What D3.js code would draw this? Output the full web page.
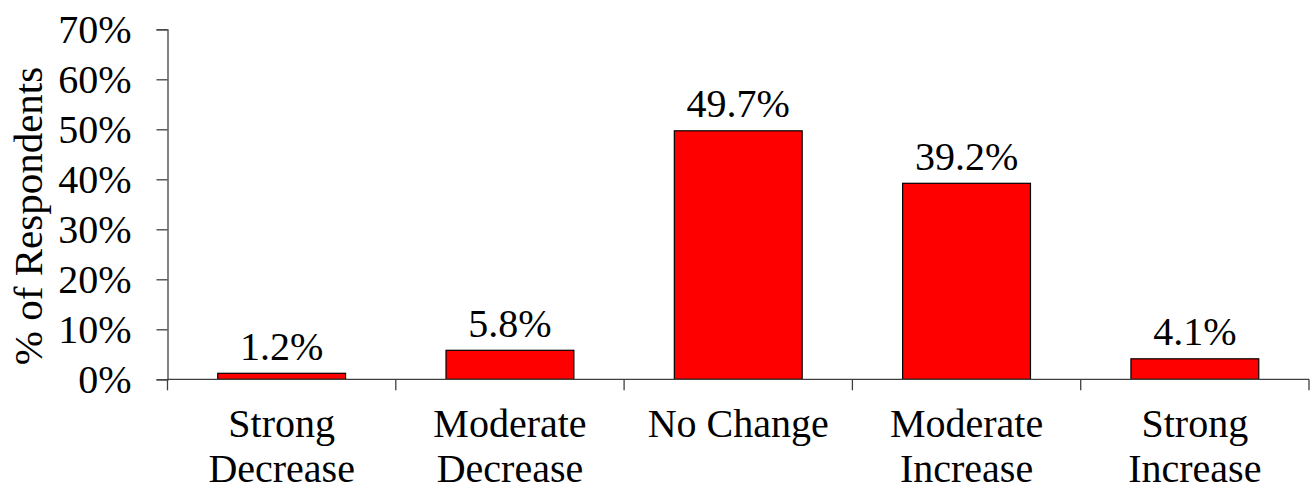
<!DOCTYPE html>
<html><head><meta charset="utf-8">
<script src="https://cdn.jsdelivr.net/npm/d3@7/dist/d3.min.js"></script>
<style>body{margin:0;background:#fff}svg text{font-family:"Liberation Serif","Times New Roman",serif;fill:#000}</style>
</head><body><svg id="c" width="1314" height="488"></svg>
<script>
const categories = [["Strong","Decrease"],["Moderate","Decrease"],["No Change"],["Moderate","Increase"],["Strong","Increase"]];
const values = [1.2, 5.8, 49.7, 39.2, 4.1];
const yTicks = [0,10,20,30,40,50,60,70];

(function(){
const svg = d3.select("#c");
const mLeft=167.5, mRight=1309, mTop=29.3, mBottom=379.3;
const fs = 40;
const x = d3.scaleBand().domain(d3.range(categories.length)).range([mLeft,mRight]).paddingInner(0.44).paddingOuter(0.22);
const xb = d3.scaleBand().domain(d3.range(categories.length)).range([mLeft,mRight]);
const y = d3.scaleLinear().domain([0,70]).range([mBottom,mTop]);
const axisColor="#404040";

const ya = svg.append("g").attr("transform",`translate(${mLeft},0)`)
  .call(d3.axisLeft(y).tickValues(yTicks).tickSize(11).tickPadding(25).tickFormat(d=>d+"%"));
ya.select(".domain").attr("stroke",axisColor).attr("stroke-width",1.3);
ya.selectAll(".tick line").attr("stroke",axisColor).attr("stroke-width",1.3);
ya.selectAll("text").attr("font-size",fs).attr("font-family","Liberation Serif").attr("fill","#000").attr("dy","0.34em");

svg.append("g").selectAll("rect").data(values).join("rect")
  .attr("x",(d,i)=>x(i)).attr("width",x.bandwidth())
  .attr("y",d=>y(d)).attr("height",d=>mBottom-y(d))
  .attr("fill","#ff0000").attr("stroke","#000").attr("stroke-width",1.2);

svg.append("line").attr("x1",mLeft).attr("x2",mRight).attr("y1",mBottom).attr("y2",mBottom).attr("stroke",axisColor).attr("stroke-width",1.3);
const bounds = d3.range(categories.length+1).map(i=> i<categories.length? xb(i): mRight);
svg.append("g").selectAll("line").data(bounds).join("line")
  .attr("x1",d=>d).attr("x2",d=>d).attr("y1",mBottom).attr("y2",mBottom+11)
  .attr("stroke",axisColor).attr("stroke-width",1.3);

svg.append("g").selectAll("text").data(values).join("text")
  .attr("x",(d,i)=>x(i)+x.bandwidth()/2).attr("y",d=>y(d)-13.5)
  .attr("text-anchor","middle").attr("font-size",fs).text(d=>d.toFixed(1)+"%");

const cl = svg.append("g").selectAll("text").data(categories).join("text")
  .attr("x",(d,i)=>xb(i)+xb.bandwidth()/2).attr("y",437).attr("text-anchor","middle").attr("font-size",fs);
cl.each(function(d){
  const t=d3.select(this);
  d.forEach((s,j)=>t.append("tspan").attr("x",t.attr("x")).attr("dy",j?45:0).text(s));
});

svg.append("text").attr("transform","translate(42,216) rotate(-90)").attr("text-anchor","middle").attr("font-size",41).text("% of Respondents");
})();
</script></body></html>
